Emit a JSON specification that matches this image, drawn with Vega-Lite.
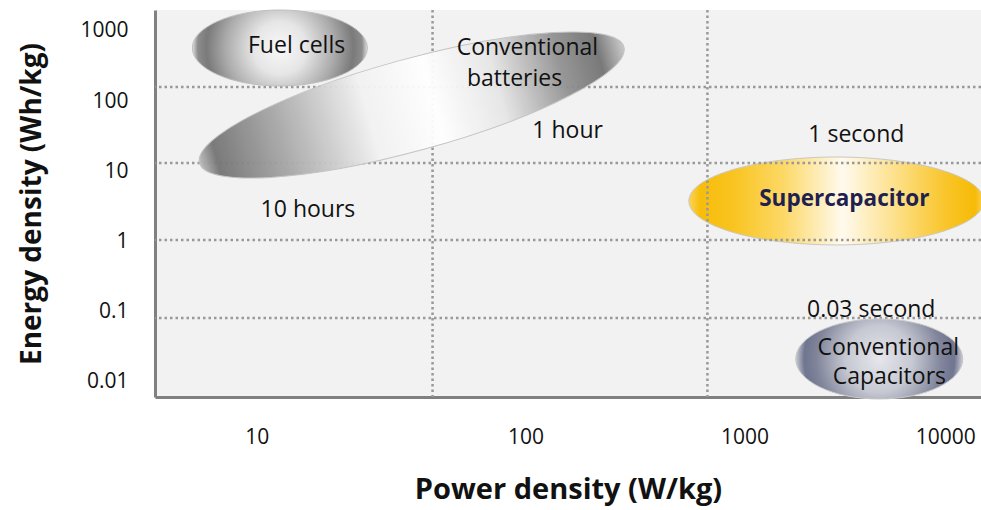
{
  "$schema": "https://vega.github.io/schema/vega-lite/v6.json",
  "width": 826,
  "height": 387,
  "autosize": {"type": "none"},
  "padding": {"left": 155, "top": 10, "right": 0, "bottom": 113},
  "background": "white",
  "config": {
    "view": {"fill": "#f2f2f2", "stroke": null},
    "font": "Open Sans",
    "text": {"font": "Open Sans"}
  },
  "datasets": {
    "regions": [
      {"name": "Fuel cells", "power": 12.6, "energy": 573},
      {"name": "Conventional batteries", "power": 47.3, "energy": 88.3},
      {"name": "Supercapacitor", "power": 3350, "energy": 3.79},
      {"name": "Conventional capacitors", "power": 5150, "energy": 0.02127}
    ],
    "vgrid": [{"power": 58.3}, {"power": 919}],
    "hgrid": [{"energy": 159.3}, {"energy": 13.2}, {"energy": 1.054}, {"energy": 0.0816}],
    "labels": [
      {"text": "Fuel cells", "power": 14.9, "energy": 611},
      {"text": "Conventional", "power": 151, "energy": 573},
      {"text": "batteries", "power": 132.7, "energy": 207},
      {"text": "1 hour", "power": 226, "energy": 37.6},
      {"text": "10 hours", "power": 16.7, "energy": 2.82},
      {"text": "1 second", "power": 4093, "energy": 33.0},
      {"text": "0.03 second", "power": 4753, "energy": 0.1062},
      {"text": "Conventional", "power": 5640, "energy": 0.0305},
      {"text": "Capacitors", "power": 5700, "energy": 0.01178}
    ],
    "boldlabels": [
      {"text": "Supercapacitor", "power": 3631, "energy": 4.045}
    ]
  },
  "layer": [
    {
      "data": {"name": "regions"},
      "transform": [{"filter": "datum.name === 'Supercapacitor'"}],
      "mark": {
        "type": "point",
        "shape": "M -1 0 A 1 0.298 0 1 0 1 0 A 1 0.298 0 1 0 -1 0 Z",
        "size": 87025,
        "filled": true,
        "fill": {
          "gradient": "linear", "x1": 0, "y1": 0.5, "x2": 1, "y2": 0.5,
          "stops": [
            {"offset": 0, "color": "#fbd45a"},
            {"offset": 0.04, "color": "#f7bd0a"},
            {"offset": 0.15, "color": "#f9c420"},
            {"offset": 0.32, "color": "#fcd866"},
            {"offset": 0.52, "color": "#fffaee"},
            {"offset": 0.7, "color": "#fde08a"},
            {"offset": 0.87, "color": "#f9c52a"},
            {"offset": 0.97, "color": "#f6bb06"},
            {"offset": 1, "color": "#fbd45a"}
          ]
        },
        "stroke": "#c8c8c8",
        "strokeWidth": 1,
        "opacity": 1
      },
      "encoding": {
        "x": {
          "field": "power", "type": "quantitative",
          "scale": {"type": "log", "domain": [3.6, 14300]},
          "axis": {
            "values": [10, 148.3, 1332, 10000],
            "labelExpr": "datum.value < 50 ? '10' : datum.value < 500 ? '100' : datum.value < 5000 ? '1000' : '10000'",
            "grid": false, "ticks": false,
            "domain": true, "domainColor": "#808080", "domainWidth": 3,
            "labelFontSize": 21, "labelPadding": 29, "labelColor": "#111111",
            "labelFlush": false, "labelOverlap": false,
            "title": "Power density (W/kg)", "titleFontSize": 29, "titleFontWeight": "bold",
            "titleColor": "#111111", "titlePadding": 28
          }
        },
        "y": {
          "field": "energy", "type": "quantitative",
          "scale": {"type": "log", "domain": [0.00611, 1991]},
          "axis": {
            "values": [0.01, 0.1, 1, 10, 100, 1000],
            "format": "~g",
            "grid": false, "ticks": false,
            "domain": true, "domainColor": "#808080", "domainWidth": 3,
            "labelFontSize": 21, "labelPadding": 27, "labelColor": "#111111",
            "labelFlush": false, "labelOverlap": false,
            "title": "Energy density (Wh/kg)", "titleFontSize": 28, "titleFontWeight": "bold",
            "titleColor": "#111111", "titlePadding": 33
          }
        }
      }
    },
    {
      "data": {"name": "vgrid"},
      "mark": {"type": "rule", "color": "#999999", "strokeWidth": 2.5, "strokeDash": [2.5, 3]},
      "encoding": {
        "x": {"field": "power", "type": "quantitative", "scale": {"type": "log", "domain": [3.6, 14300]}}
      }
    },
    {
      "data": {"name": "hgrid"},
      "mark": {"type": "rule", "color": "#999999", "strokeWidth": 2.5, "strokeDash": [2.5, 3]},
      "encoding": {
        "y": {"field": "energy", "type": "quantitative", "scale": {"type": "log", "domain": [0.00611, 1991]}}
      }
    },
    {
      "data": {"name": "regions"},
      "transform": [{"filter": "datum.name === 'Fuel cells'"}],
      "mark": {
        "type": "point",
        "shape": "M -1 0 A 1 0.434 0 1 0 1 0 A 1 0.434 0 1 0 -1 0 Z",
        "size": 30625,
        "filled": true,
        "fill": {
          "gradient": "radial", "x1": 0.5, "y1": 0.5, "r1": 0, "x2": 0.5, "y2": 0.5, "r2": 0.5,
          "stops": [
            {"offset": 0, "color": "#f8f8f8"},
            {"offset": 0.3, "color": "#e6e6e6"},
            {"offset": 0.62, "color": "#ababab"},
            {"offset": 0.84, "color": "#7a7a7a"},
            {"offset": 0.94, "color": "#8c8c8c"},
            {"offset": 1, "color": "#e0e0e0"}
          ]
        },
        "stroke": "#c0c0c0",
        "strokeWidth": 1,
        "opacity": 1
      },
      "encoding": {
        "x": {"field": "power", "type": "quantitative", "scale": {"type": "log", "domain": [3.6, 14300]}},
        "y": {"field": "energy", "type": "quantitative", "scale": {"type": "log", "domain": [0.00611, 1991]}}
      }
    },
    {
      "data": {"name": "regions"},
      "transform": [{"filter": "datum.name === 'Conventional batteries'"}],
      "mark": {
        "type": "point",
        "shape": "M -1 0 A 1 0.209 0 1 0 1 0 A 1 0.209 0 1 0 -1 0 Z",
        "size": 193600,
        "angle": -15.3,
        "filled": true,
        "fill": {
          "gradient": "linear", "x1": 0, "y1": 0.5, "x2": 1, "y2": 0.5,
          "stops": [
            {"offset": 0, "color": "#bcbcbc"},
            {"offset": 0.04, "color": "#747474"},
            {"offset": 0.2, "color": "#aaaaaa"},
            {"offset": 0.4, "color": "#f2f2f2"},
            {"offset": 0.55, "color": "#ffffff"},
            {"offset": 0.7, "color": "#e6e6e6"},
            {"offset": 0.85, "color": "#929292"},
            {"offset": 0.94, "color": "#737373"},
            {"offset": 1, "color": "#c8c8c8"}
          ]
        },
        "stroke": "#c0c0c0",
        "strokeWidth": 1,
        "opacity": 0.95
      },
      "encoding": {
        "x": {"field": "power", "type": "quantitative", "scale": {"type": "log", "domain": [3.6, 14300]}},
        "y": {"field": "energy", "type": "quantitative", "scale": {"type": "log", "domain": [0.00611, 1991]}}
      }
    },
    {
      "data": {"name": "regions"},
      "transform": [{"filter": "datum.name === 'Conventional capacitors'"}],
      "mark": {
        "type": "point",
        "shape": "M -1 0 A 1 0.479 0 1 0 1 0 A 1 0.479 0 1 0 -1 0 Z",
        "size": 27889,
        "filled": true,
        "fill": {
          "gradient": "radial", "x1": 0.5, "y1": 0.5, "r1": 0, "x2": 0.5, "y2": 0.5, "r2": 0.5,
          "stops": [
            {"offset": 0, "color": "#e6e7ec"},
            {"offset": 0.4, "color": "#c6c8d2"},
            {"offset": 0.75, "color": "#80859b"},
            {"offset": 0.9, "color": "#707590"},
            {"offset": 1, "color": "#cacbd4"}
          ]
        },
        "stroke": "#c8c8c8",
        "strokeWidth": 1,
        "opacity": 1
      },
      "encoding": {
        "x": {"field": "power", "type": "quantitative", "scale": {"type": "log", "domain": [3.6, 14300]}},
        "y": {"field": "energy", "type": "quantitative", "scale": {"type": "log", "domain": [0.00611, 1991]}}
      }
    },
    {
      "mark": {"type": "rule", "color": "#808080", "strokeWidth": 3},
      "encoding": {
        "y": {"datum": 1991, "type": "quantitative", "scale": {"type": "log", "domain": [0.00611, 1991]}}
      }
    },
    {
      "data": {"name": "labels"},
      "mark": {"type": "text", "fontSize": 23, "color": "#111111", "align": "center", "baseline": "middle"},
      "encoding": {
        "x": {"field": "power", "type": "quantitative", "scale": {"type": "log", "domain": [3.6, 14300]}},
        "y": {"field": "energy", "type": "quantitative", "scale": {"type": "log", "domain": [0.00611, 1991]}},
        "text": {"field": "text", "type": "nominal"}
      }
    },
    {
      "data": {"name": "boldlabels"},
      "mark": {"type": "text", "fontSize": 22.5, "fontWeight": "bold", "color": "#1f1f50", "align": "center", "baseline": "middle"},
      "encoding": {
        "x": {"field": "power", "type": "quantitative", "scale": {"type": "log", "domain": [3.6, 14300]}},
        "y": {"field": "energy", "type": "quantitative", "scale": {"type": "log", "domain": [0.00611, 1991]}},
        "text": {"field": "text", "type": "nominal"}
      }
    }
  ]
}
